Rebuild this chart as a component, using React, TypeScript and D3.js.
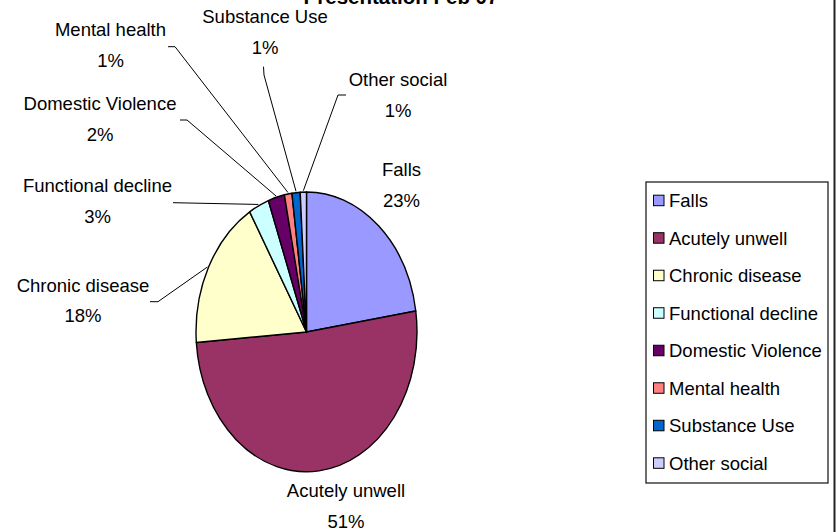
import React from "react";
import * as d3 from "d3";

const categories = [
  "Falls",
  "Acutely unwell",
  "Chronic disease",
  "Functional decline",
  "Domestic Violence",
  "Mental health",
  "Substance Use",
  "Other social",
];
const values = [22.6, 51.2, 17.6, 3.0, 2.4, 1.1, 1.2, 0.9];
const colors = [
  "#9999FF",
  "#993366",
  "#FFFFCC",
  "#CCFFFF",
  "#660066",
  "#FF8080",
  "#0066CC",
  "#CCCCFF",
];
const title = "Presentation Feb 07";

// label layout: text centre x, first baseline y, leader polyline start points (label side)
const labelLayout: Record<string, { x: number; y: number; leader?: [number, number][] }> = {
  "Falls": { x: 401.5, y: 176 },
  "Acutely unwell": { x: 346, y: 497 },
  "Chronic disease": { x: 83, y: 291.5, leader: [[150, 301.7], [158, 301.7]] },
  "Functional decline": { x: 97.5, y: 192.3, leader: [[173, 202.7]] },
  "Domestic Violence": { x: 100, y: 110, leader: [[180, 120], [187, 120]] },
  "Mental health": { x: 110.5, y: 36, leader: [[168, 46.7], [175, 46.7]] },
  "Substance Use": { x: 265, y: 23.3, leader: [[263.5, 66.7], [264, 75]] },
  "Other social": { x: 398, y: 86, leader: [[346, 95], [338, 95]] },
};

const W = 837;
const H = 532;
const cx = 306.5;
const cy = 332;
const rx = 110.5;
const ry = 140;
const FONT = "Arial, 'Liberation Sans', sans-serif";
const FS = 18.5;

export default function App() {
  const data = categories.map((c, i) => ({ name: c, value: values[i], color: colors[i] }));
  const total = d3.sum(values);
  const pie = d3.pie<any>().sort(null).value((d) => d.value).startAngle(0).endAngle(2 * Math.PI);
  const arcs = pie(data);
  const arc = d3.arc<any>().innerRadius(0).outerRadius(1);
  const pt = (a: number, k = 1): [number, number] => [cx + rx * k * Math.sin(a), cy - ry * k * Math.cos(a)];

  const legendY = d3.scalePoint<string>().domain(categories).range([200.7, 463.3]);

  return (
    <svg width={W} height={H} style={{ position: "absolute", left: 0, top: 0, background: "#fff" }} fontFamily={FONT}>
      <rect x={0} y={0} width={W} height={H} fill="#fff" />
      <text x={401} y={4} textAnchor="middle" fontWeight="bold" fontSize={20.5} fill="#000">
        {title}
      </text>
      <g transform={`translate(${cx},${cy}) scale(${rx},${ry})`}>
        {arcs.map((a, i) => (
          <path
            key={i}
            d={arc(a) as string}
            fill={a.data.color}
            stroke="#000"
            strokeWidth={1.4}
            vectorEffect="non-scaling-stroke"
            strokeLinejoin="round"
          />
        ))}
      </g>
      {arcs.map((a, i) => {
        const lay = labelLayout[a.data.name];
        const mid = (a.startAngle + a.endAngle) / 2;
        const pct = Math.round((a.data.value / total) * 100) + "%";
        const end = pt(mid, 1.01);
        const line = lay.leader ? d3.line()([...lay.leader, end]) : null;
        return (
          <g key={i}>
            {line && <path d={line as string} fill="none" stroke="#000" strokeWidth={1} />}
            <text x={lay.x} y={lay.y} textAnchor="middle" fontSize={FS} fill="#000">
              {a.data.name}
            </text>
            <text x={lay.x} y={lay.y + 30.5} textAnchor="middle" fontSize={FS} fill="#000">
              {pct}
            </text>
          </g>
        );
      })}
      <rect x={646} y={182} width={182} height={301} fill="#fff" stroke="#222" strokeWidth={1.3} />
      {categories.map((c, i) => (
        <g key={c} transform={`translate(0,${legendY(c)})`}>
          <rect x={653.5} y={-5.5} width={10.5} height={10.5} fill={colors[i]} stroke="#000" strokeWidth={1} />
          <text x={669} y={6.5} fontSize={FS} fill="#000">
            {c}
          </text>
        </g>
      ))}
      <line x1={834.5} y1={0} x2={834.5} y2={H} stroke="#222" strokeWidth={2} />
    </svg>
  );
}
